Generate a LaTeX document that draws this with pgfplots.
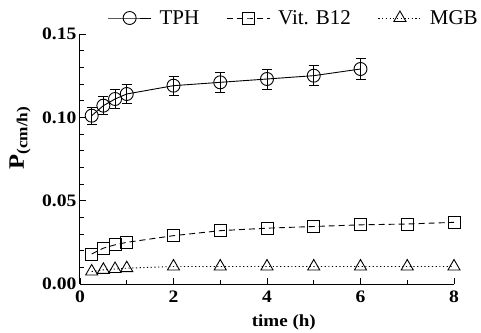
\documentclass[border=0pt]{standalone}
\usepackage{pgfplots}
\pgfplotsset{compat=1.18}
\usepackage{fontspec}
\setmainfont{Liberation Serif}[FakeStretch=1.12]
\newfontfamily\legfont{Liberation Serif}
\begin{document}
\begin{tikzpicture}
\useasboundingbox (-80pt,-48pt) rectangle (401pt,284pt);
\begin{axis}[
  at={(0pt,0pt)}, anchor=south west,
  width=374pt, height=250pt, scale only axis,
  axis lines=left, axis line style={-, line width=1pt},
  xmin=0, xmax=8, ymin=0, ymax=0.15,
  xtick={0,2,4,6,8}, ytick={0,0.05,0.10,0.15},
  minor xtick={1,3,5,7},
  minor ytick={0.01,0.02,0.03,0.04,0.06,0.07,0.08,0.09,0.11,0.12,0.13,0.14},
  tick align=inside, major tick length=6pt, minor tick length=4pt,
  every tick/.style={black, line width=0.9pt},
  /pgf/number format/assume math mode=true,
  ticklabel style={font=\fontsize{17.5}{19}\selectfont\bfseries},
  yticklabel style={/pgf/number format/fixed, /pgf/number format/fixed zerofill, /pgf/number format/precision=2, xshift=0pt},
  xticklabel style={yshift=-3pt},
  scaled y ticks=false,
  xlabel={\textbf{time (h)}},
  ylabel={\textbf{P}\textsubscript{\textbf{(cm/h)}}},
  every axis x label/.style={at={(axis description cs:0.545,-0.152)}, anchor=center, font=\fontsize{17}{19}\selectfont},
  every axis y label/.style={at={(axis description cs:-0.1604,0.584)}, rotate=90, anchor=center, font=\fontsize{22}{24}\selectfont},
  clip=false,
  legend columns=3,
  legend style={draw=none, fill=none, font=\legfont\fontsize{21}{23}\selectfont, at={(axis description cs:1.072,1.064)}, anchor=east, column sep=6pt, inner sep=1pt, /tikz/every even column/.append style={column sep=25pt}},
  legend image code/.code={\draw[mark repeat=2,mark phase=2,#1] plot coordinates {(0pt,0pt)(21.5pt,0pt)(43pt,0pt)};},
]
\addplot[black, line width=0.9pt, mark=o, mark size=6.5pt, mark options={solid, fill=white, line width=0.9pt},
  error bars/.cd, y dir=both, y explicit, error mark options={rotate=90, mark size=5pt, line width=0.8pt}, error bar style={line width=0.8pt}]
  table[x=x, y=y, y error=e] {
  x y e
  0.25 0.101 0.0050
  0.5 0.107 0.0055
  0.75 0.111 0.0055
  1 0.114 0.0055
  2 0.119 0.0058
  3 0.121 0.0058
  4 0.123 0.0060
  5 0.125 0.0060
  6 0.129 0.0062
};
\addlegendentry{TPH}
\addplot[black, line width=0.9pt, dashed, dash pattern=on 6pt off 4pt, mark=square, mark size=6pt, mark options={solid, fill=white, line width=0.9pt}]
  coordinates {(0.25,0.018) (0.5,0.0215) (0.75,0.0235) (1,0.025) (2,0.029) (3,0.032) (4,0.0335) (5,0.0345) (6,0.0355) (7,0.036) (8,0.037)};
\addlegendentry{Vit. B12}
\addplot[black, line width=0.9pt, dotted, dash pattern=on 1.2pt off 2.5pt, mark=triangle, mark size=7pt, mark options={solid, fill=white, line width=0.9pt}]
  coordinates {(0.25,0.0075) (0.5,0.0085) (0.75,0.009) (1,0.0095) (2,0.0105) (3,0.0105) (4,0.0105) (5,0.0105) (6,0.0105) (7,0.0105) (8,0.0105)};
\addlegendentry{MGB}
\end{axis}
\end{tikzpicture}
\end{document}
